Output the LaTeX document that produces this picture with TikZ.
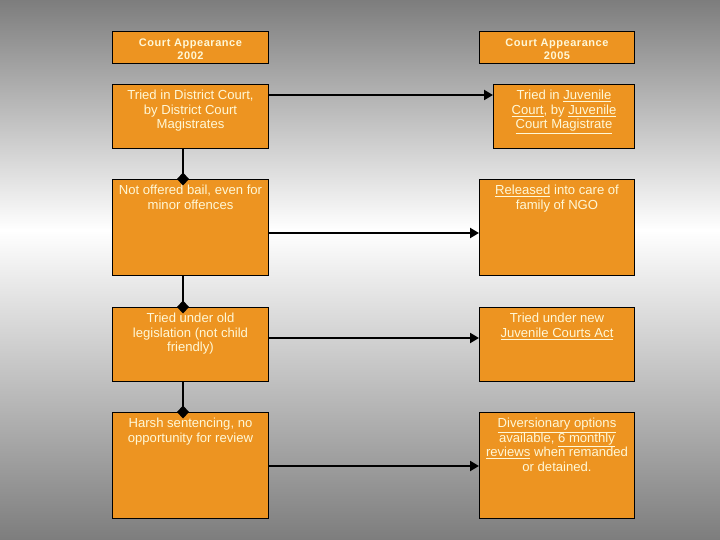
\documentclass[tikz,border=0pt]{standalone}
\usepackage{fontspec}
\setmainfont{Liberation Sans}
\usetikzlibrary{arrows.meta}
\definecolor{boxorange}{RGB}{237,148,33}
\definecolor{txtcream}{RGB}{255,248,215}
\definecolor{bggray}{RGB}{125,125,125}
\newcommand{\ul}[1]{\underline{#1}}
\tikzset{
  box/.style={draw=black, line width=1pt, fill=boxorange, anchor=north west, inner sep=0pt},
  txt/.style={text=txtcream, align=center, inner sep=0pt, anchor=north,
    font=\fontsize{13.1}{14.6}\selectfont},
  headtxt/.style={text=txtcream, align=center, inner sep=0pt,
    font=\fontsize{11}{13}\selectfont\bfseries\addfontfeature{LetterSpace=5}},
  conn/.style={line width=2pt, black},
  arr/.style={conn, -{Triangle[length=9pt,width=10pt]}},
  dia/.style={conn, shorten >=-6.5pt, -{Diamond[length=13pt,width=12pt]}}
}
\begin{document}
\begin{tikzpicture}[x=1pt,y=-1pt]
\useasboundingbox (0,0) rectangle (720,540);
\shade[top color=bggray, bottom color=white] (0,0) rectangle (720,230);
\shade[top color=white, bottom color=bggray] (0,230) rectangle (720,540);

% headers
\node[box, minimum width=156pt, minimum height=32pt] (HL) at (112,31) {};
\node[headtxt] (HLt) at ([yshift=-2pt]HL.center) {Court Appearance\\2002};
\node[box, minimum width=155pt, minimum height=32pt] (HR) at (479,31) {};
\node[headtxt] (HRt) at ([yshift=-2pt]HR.center) {Court Appearance\\2005};

% left column
\node[box, minimum width=156pt, minimum height=64pt] (L1) at (112,84) {};
\node[box, minimum width=156pt, minimum height=96pt] (L2) at (112,179) {};
\node[box, minimum width=156pt, minimum height=74pt] (L3) at (112,307) {};
\node[box, minimum width=156pt, minimum height=106pt] (L4) at (112,412) {};
% right column
\node[box, minimum width=141pt, minimum height=64pt] (R1) at (493,84) {};
\node[box, minimum width=155pt, minimum height=96pt] (R2) at (479,179) {};
\node[box, minimum width=155pt, minimum height=74pt] (R3) at (479,307) {};
\node[box, minimum width=155pt, minimum height=106pt] (R4) at (479,412) {};

% texts
\node[txt] (L1t) at ([yshift=-6pt]L1.north) {Tried in District Court,\\by District Court\\Magistrates};
\node[txt] (L2t) at ([yshift=-6pt]L2.north) {Not offered bail, even for\\minor offences};
\node[txt] (L3t) at ([yshift=-6pt]L3.north) {Tried under old\\legislation (not child\\friendly)};
\node[txt] (L4t) at ([yshift=-6pt]L4.north) {Harsh sentencing, no\\opportunity for review};
\node[txt] (R1t) at ([yshift=-6pt]R1.north) {Tried in \ul{Juvenile}\\\ul{Court}, by \ul{Juvenile}\\\ul{Court Magistrate}};
\node[txt] (R2t) at ([yshift=-6pt]R2.north) {\ul{Released} into care of\\family of NGO};
\node[txt] (R3t) at ([yshift=-6pt]R3.north) {Tried under new\\\ul{Juvenile Courts Act}};
\node[txt] (R4t) at ([yshift=-6pt]R4.north) {\ul{Diversionary options}\\available, \ul{6 monthly}\\\ul{reviews} when remanded\\or detained.};

% vertical connectors
\coordinate (cx) at (183,0);
\draw[dia] (L1.south -| cx) -- (L2.north -| cx);
\draw[dia] (L2.south -| cx) -- (L3.north -| cx);
\draw[dia] (L3.south -| cx) -- (L4.north -| cx);

% horizontal arrows
\coordinate (y1) at (0,95);
\coordinate (y2) at (0,233);
\coordinate (y3) at (0,338);
\coordinate (y4) at (0,466);
\draw[arr] (L1.east |- y1) -- (R1.west |- y1);
\draw[arr] (L2.east |- y2) -- (R2.west |- y2);
\draw[arr] (L3.east |- y3) -- (R3.west |- y3);
\draw[arr] (L4.east |- y4) -- (R4.west |- y4);
\end{tikzpicture}
\end{document}
